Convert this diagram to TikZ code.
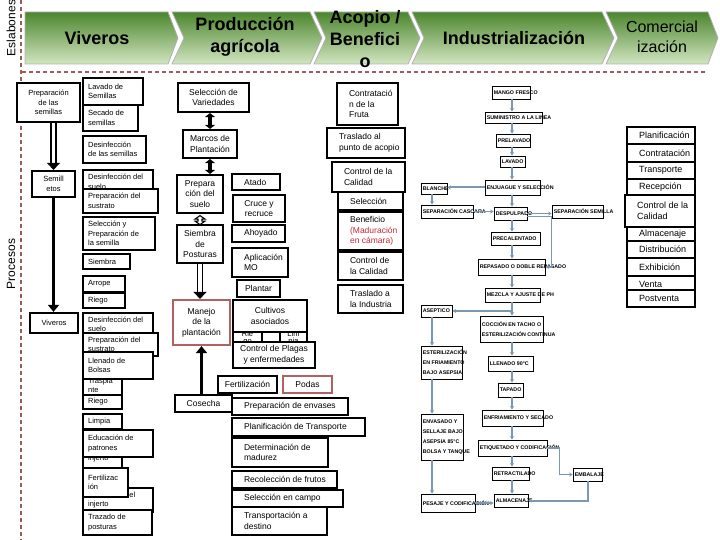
\documentclass[tikz,border=0pt]{standalone}
\usepackage{fontspec}
\setmainfont{Liberation Sans}
\usetikzlibrary{arrows.meta}

\definecolor{verdeOsc}{RGB}{76,134,46}
\definecolor{verdeClaro}{RGB}{210,229,192}
\definecolor{guia}{RGB}{160,90,88}
\definecolor{rojoCaja}{RGB}{176,98,96}
\definecolor{rojoTexto}{RGB}{200,40,55}
\definecolor{azulFlujo}{RGB}{122,152,178}

\tikzset{
  eslabon/.style={top color=verdeOsc, bottom color=verdeClaro, draw=black!30, line width=0.8pt},
  titulo/.style={align=center, inner sep=0pt, font=\fontsize{18}{22}\selectfont\bfseries},
  guiap/.style={draw=guia, line width=1.3pt, dash pattern=on 4pt off 3pt},
  caja/.style={draw=black, line width=2.2pt, fill=white, inner sep=0pt},
  texto/.style={anchor=west, xshift=6pt, align=left, inner sep=0pt, font=\fontsize{7.5}{9.5}\selectfont},
  textoc/.style={align=center, inner sep=0pt, font=\fontsize{7.5}{9.5}\selectfont},
  paso/.style={draw=black, line width=0.8pt, fill=white, inner sep=0pt},
  pasotxt/.style={anchor=west, xshift=2pt, align=left, inner sep=0pt, font=\fontsize{5.3}{10}\selectfont\bfseries},
  flujo/.style={draw=azulFlujo, line width=1.1pt, -{Stealth[length=3.5pt,width=4pt]}},
  flujog/.style={flujo, line width=2pt},
  hueca/.style={draw=black, double=white, double distance=3.5pt, line width=1.4pt, -{Triangle[length=7pt,width=13pt]}},
  huecas/.style={draw=black, fill=white, line width=1.1pt, line join=miter},
  maciza/.style={draw=black, line width=3.5pt, -{Triangle[length=7pt,width=11pt]}},
  macizas/.style={draw=black, line width=4pt, {Triangle[length=4pt,width=10pt]}-{Triangle[length=4pt,width=10pt]}},
}

% caja con texto a la izquierda: [opciones]{nombre}{x1}{y1}{x2}{y2}{texto}
\newcommand{\caja}[7][]{%
  \pgfmathsetmacro{\anchoC}{#5-#3}\pgfmathsetmacro{\altoC}{#6-#4}%
  \node[caja, minimum width=\anchoC pt, minimum height=\altoC pt, #1] (#2) at ({(#3+#5)/2},{(#4+#6)/2}) {};
  \node[texto] (#2-t) at (#2.west) {#7};}
% caja con texto centrado
\newcommand{\cajac}[7][]{%
  \pgfmathsetmacro{\anchoC}{#5-#3}\pgfmathsetmacro{\altoC}{#6-#4}%
  \node[caja, minimum width=\anchoC pt, minimum height=\altoC pt, #1] (#2) at ({(#3+#5)/2},{(#4+#6)/2}) {};
  \node[textoc] (#2-t) at (#2.center) {#7};}
% etapa de la linea industrial
\newcommand{\etapa}[6]{%
  \pgfmathsetmacro{\anchoC}{#4-#2}\pgfmathsetmacro{\altoC}{#5-#3}%
  \node[paso, minimum width=\anchoC pt, minimum height=\altoC pt] (#1) at ({(#2+#4)/2},{(#3+#5)/2}) {};
  \node[pasotxt] (#1-t) at (#1.west) {#6};}

\begin{document}
\begin{tikzpicture}[x=1pt, y=-1pt]
\useasboundingbox (0,0) rectangle (720,540);

% eslabones
\foreach \a/\b/\c/\d in {25/25/168/178, 172/184/310/322, 314/326/408/420, 412/424/602/614, 606/618/708/718}
  \draw[eslabon] (\a,12) -- (\c,12) -- (\d,38) -- (\c,64) -- (\a,64) -- (\b,38) -- cycle;
\node[titulo] (tviv) at (97,38) {Viveros};
\node[titulo] (tprod) at (245,37) {Producción\\agrícola};
\node[titulo] (tacop) at (365,39) {Acopio /\\Benefici\\o};
\node[titulo] (tind) at (514,38) {Industrialización};
\node[titulo, font=\fontsize{16}{20}\selectfont] (tcom) at (662,37) {Comercial\\ización};

\draw[guiap] (21,0) -- (21,540);
\draw[guiap] (22,72) -- (706,72);
\node[rotate=90, inner sep=0pt, font=\fontsize{12}{12}\selectfont] (esl) at (11,28) {Eslabones};
\node[rotate=90, inner sep=0pt, font=\fontsize{12}{12}\selectfont] (proc) at (11,264) {Procesos};

% viveros
\begin{scope}
\cajac{prep}{17}{83}{80}{122}{Preparación\\de las\\semillas}
\caja{lavado}{83}{78}{143}{105}{Lavado de\\Semillas}
\caja{secado}{83}{105}{138}{131}{Secado de\\semillas}
\caja{desinfsem}{83}{136}{146}{163}{Desinfección\\de las semillas}
\cajac{sem}{32}{171}{75}{197}{Semill\\etos}
\caja{desinfa}{83}{170}{153}{194}{Desinfección del\\suelo}
\caja{sustra}{83}{189}{158}{213}{Preparación del\\sustrato}
\caja{selsem}{83}{217}{155}{250}{Selección y\\Preparación de\\la semilla}
\caja{siembra}{83}{254}{130}{269}{Siembra}
\caja{arrope}{83}{276}{125}{292}{Arrope}
\caja{riegoa}{83}{293}{125}{308}{Riego}
\cajac{viv}{30}{313}{78}{333}{Viveros}
\caja{desinfb}{83}{313}{153}{336}{Desinfección del\\suelo}
\caja{sustrb}{83}{333}{158}{356}{Preparación del\\sustrato}
\caja{traspl}{83}{374}{122}{397}{Traspla\\nte}
\caja{llenado}{83}{352}{153}{379}{Llenado de\\Bolsas}
\caja{riegob}{83}{395}{122}{409}{Riego}
\caja{limpiaa}{83}{414}{122}{429}{Limpia}
\caja{injerto}{83}{449}{122}{468}{injerto}
\caja{edupat}{83}{430}{153}{457}{Educación de\\patrones}
\caja{eduinj}{83}{488}{153}{512}{Educación del\\injerto}
\caja{fertila}{83}{468}{128}{497}{Fertilizac\\ión}
\caja{trazado}{83}{510}{152}{535}{Trazado de\\posturas}
\end{scope}
\draw[hueca] (prep.south -| sem.north) -- (sem.north);
\draw[maciza] (sem.south) -- (sem.south |- viv.north);

% produccion agricola
\begin{scope}[texto/.append style={font=\fontsize{8.5}{10.5}\selectfont, xshift=7pt},
              textoc/.append style={font=\fontsize{8.5}{10.5}\selectfont}]
\cajac{selvar}{178}{83}{249}{112}{Selección de\\Variedades}
\cajac{marcos}{183}{130}{237}{158}{Marcos de\\Plantación}
\cajac{prepsuelo}{177}{175}{223}{213}{Prepara\\ción del\\suelo}
\cajac{siembrap}{177}{225}{223}{263}{Siembra\\de\\Posturas}
\cajac[draw=rojoCaja]{manejo}{173}{300}{230}{345}{Manejo\\de la\\plantación}
\caja{atado}{232}{174}{280}{190}{Atado}
\cajac{cruce}{233}{195}{285}{222}{Cruce y\\recruce}
\caja{ahoyado}{232}{225}{285}{242}{Ahoyado}
\caja{aplic}{232}{248}{288}{277}{Aplicación\\MO}
\cajac{plantar}{237}{280}{280}{297}{Plantar}
\begin{scope}[textoc/.append style={font=\fontsize{7.5}{7.5}\selectfont}]
\cajac{riegom}{233}{325}{262}{351}{Rie\\go}
\cajac{blanco}{262}{325}{280}{351}{}
\cajac{limpiam}{280}{325}{307}{351}{Lim\\pia}
\end{scope}
\cajac{cultivos}{233}{300}{307}{332}{Cultivos\\asociados}
\cajac{plagas}{233}{342}{315}{368}{Control de Plagas\\y enfermedades}
\cajac{fertilm}{218}{376}{277}{393}{Fertilización}
\cajac[draw=rojoCaja]{podas}{283}{376}{332}{393}{Podas}
\cajac{cosecha}{175}{395}{232}{412}{Cosecha}
\caja{envases}{232}{398}{348}{415}{Preparación de envases}
\caja{planif}{232}{418}{365}{436}{Planificación de Transporte}
\caja{determ}{232}{438}{328}{467}{Determinación de\\madurez}
\caja{recol}{232}{471}{337}{488}{Recolección de frutos}
\caja{selcampo}{232}{490}{343}{507}{Selección en campo}
\caja{transp}{232}{507}{327}{535}{Transportación a\\destino}
\end{scope}
\draw[macizas] (selvar.south -| marcos.north) -- (marcos.north);
\draw[macizas] (marcos.south) -- (marcos.south |- prepsuelo.north);
\begin{scope}[shift={(prepsuelo.south)}]
  \draw[huecas] (0,1.5) -- (5,5) -- (2,5) -- (2,7) -- (5,7) -- (0,10.5) -- (-5,7) -- (-2,7) -- (-2,5) -- (-5,5) -- cycle;
\end{scope}
\draw[hueca] (siembrap.south) -- (siembrap.south |- manejo.north);
\draw[maciza] (cosecha.north -| manejo.south) -- (manejo.south);

% acopio / beneficio
\begin{scope}[texto/.append style={font=\fontsize{8.5}{10.5}\selectfont, xshift=7pt}]
\caja{contrat}{337}{83}{398}{125}{Contratació\\n de la\\Fruta}
\caja{traslado}{327}{128}{405}{158}{Traslado al\\punto de acopio}
\caja{calida}{332}{162}{405}{192}{Control de la\\Calidad}
\caja{selec}{338}{192}{403}{210}{Selección}
\caja{benef}{338}{212}{403}{250}{Beneficio\\\textcolor{rojoTexto}{(Maduración}\\\textcolor{rojoTexto}{en cámara)}}
\caja{calidb}{338}{252}{403}{280}{Control de\\la Calidad}
\caja{trasind}{338}{285}{403}{313}{Traslado a\\la Industria}
\end{scope}

% industrializacion
\coordinate (eje) at (512,0);
\coordinate (ejeL) at (432,0);
\coordinate (ramal) at (512,311);
\etapa{mango}{492}{86}{530}{99}{MANGO FRESCO}
\etapa{sumin}{485}{112}{542}{123}{SUMINISTRO A LA LINEA}
\etapa{prelav}{496}{134}{530}{147}{PRELAVADO}
\etapa{lavado2}{500}{156}{525}{167}{LAVADO}
\etapa{enjuague}{485}{180}{540}{195}{ENJUAGUE Y SELECCIÓN}
\etapa{blanch}{421}{183}{447}{194}{BLANCHE}
\etapa{sepcasc}{421}{205}{473}{218}{SEPARACIÓN CASCARA}
\etapa{despulp}{494}{207}{527}{220}{DESPULPADO}
\etapa{sepsem}{552}{205}{603}{218}{SEPARACIÓN SEMILLA}
\etapa{precal}{491}{232}{540}{245}{PRECALENTADO}
\etapa{repas}{478}{259}{545}{275}{REPASADO O DOBLE REPASADO}
\etapa{mezcla}{485}{288}{540}{302}{MEZCLA Y AJUSTE DE PH}
\etapa{aseptico}{421}{305}{452}{317}{ASEPTICO}
\etapa{coccion}{480}{316}{543}{342}{COCCIÓN EN TACHO O\\ ESTERILIZACIÓN CONTINUA}
\etapa{esteril}{421}{346}{462}{379}{ESTERILIZACIÓN\\EN FRIAMIENTO\\BAJO ASEPSIA}
\etapa{llenado2}{488}{356}{533}{371}{LLENADO 90°C}
\etapa{tapado}{498}{383}{523}{397}{TAPADO}
\etapa{enfriam}{482}{410}{543}{426}{ENFRIAMIENTO Y SECADO}
\etapa{envasado}{421}{414}{463}{460}{ENVASADO Y\\SELLAJE BAJO\\ASEPSIA 85°C\\BOLSA Y TANQUE}
\etapa{etiq}{478}{440}{547}{456}{ETIQUETADO Y CODIFICACIÓN}
\etapa{retract}{492}{467}{529}{480}{RETRACTILADO}
\etapa{embalaje}{573}{468}{602}{481}{EMBALAJE}
\etapa{pesaje}{421}{494}{475}{512}{PESAJE Y CODIFICACIÓN}
\etapa{almacen}{494}{494}{528}{507}{ALMACENAJE}

\foreach \a/\b in {mango/sumin, sumin/prelav, prelav/lavado2, lavado2/enjuague, enjuague/despulp,
                   despulp/precal, precal/repas, repas/mezcla, coccion/llenado2, llenado2/tapado,
                   tapado/enfriam, enfriam/etiq, etiq/retract, retract/almacen}
  \draw[flujo] (\a.south -| eje) -- (\b.north -| eje);
\foreach \a/\b in {blanch/sepcasc, aseptico/esteril, esteril/envasado, envasado/pesaje}
  \draw[flujo] (\a.south -| ejeL) -- (\b.north -| ejeL);
\draw[flujog] (enjuague.west) -- (enjuague.west -| blanch.east);
\draw[flujo] (sepcasc.east) -- (sepcasc.east -| despulp.west);
\draw[flujo] (despulp.east) -- (despulp.east -| sepsem.west);
\draw[flujo] ([yshift=-3pt]despulp.east) -| ([xshift=6pt]repas.east) -- (repas.east);
\draw[flujo, -] (mezcla.south -| eje) -- (ramal);
\draw[flujo] (ramal) -- (ramal -| aseptico.east);
\draw[flujo] (ramal) -- (coccion.north -| eje);
\draw[flujo] (etiq.east) -| ([xshift=-13pt]embalaje.west) -- (embalaje.west);
\draw[flujog] (embalaje.south) |- (almacen.east);
\draw[flujog] (pesaje.east) -- (pesaje.east -| almacen.west);

% comercializacion
\begin{scope}[texto/.append style={font=\fontsize{9}{11}\selectfont, xshift=7pt}]
\foreach \n/\xa/\ya/\yb/\txt in {plan/627/127/144/Planificación, contr/627/144/162/Contratación,
    transpc/627/162/179/Transporte, recep/627/179/195/Recepción, calidc/625/195/227/{Control de la\\Calidad},
    almac/627/227/241/Almacenaje, distr/627/241/258/Distribución, exhib/627/258/276/Exhibición,
    venta/627/276/293/Venta, post/627/290/307/Postventa}
  {\caja{\n}{\xa}{\ya}{695}{\yb}{\txt}}
\end{scope}
\end{tikzpicture}
\end{document}
